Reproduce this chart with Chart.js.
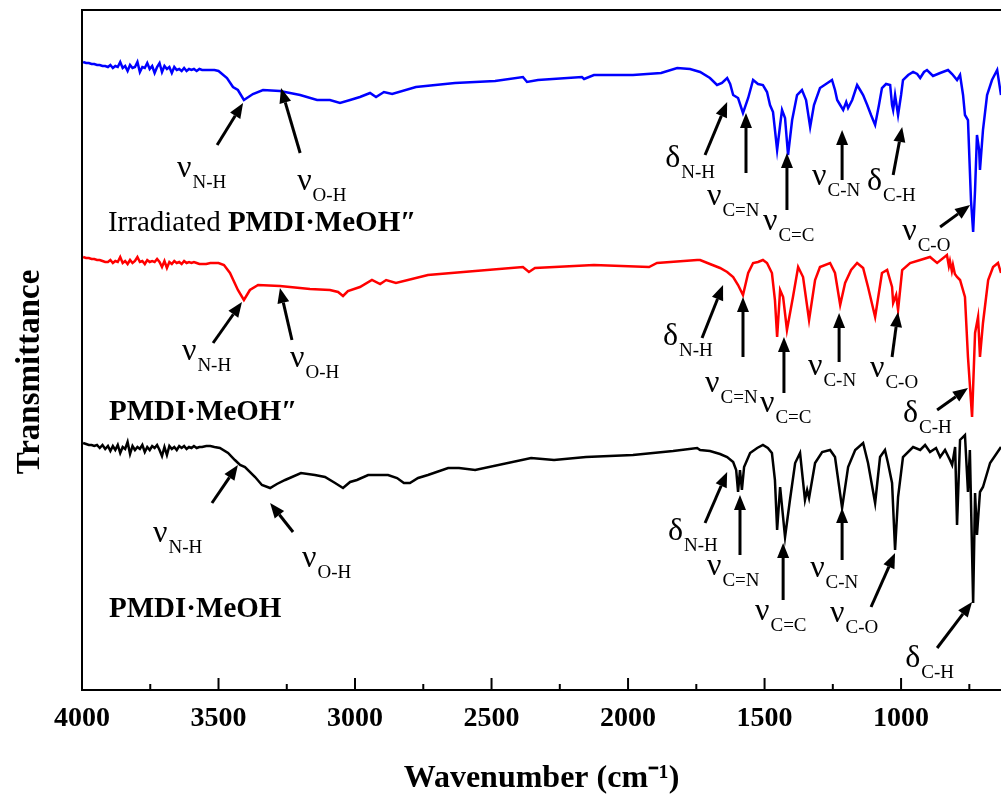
<!DOCTYPE html>
<html>
<head>
<meta charset="utf-8">
<title>FT-IR spectra of PMDI·MeOH</title>
<script src="https://cdn.jsdelivr.net/npm/chart.js@4.4.1/dist/chart.umd.min.js"></script>
<style>
  html, body { margin:0; padding:0; background:#fff; }
  #wrap { width:1001px; height:798px; }
</style>
</head>
<body>
<div id="wrap"><canvas id="chart" width="1001" height="798"></canvas></div>
<script>
const FONT = '"Liberation Serif", "Times New Roman", Times, serif';

// ── SPECTRA: [wavenumber cm-1, transmittance (offset, a.u.)] ──
const irradiated = [
  [3996,62.8],[3985,62.7],[3975,62.7],[3965,62.6],[3955,62.6],[3945,62.5],[3935,62.5],[3925,62.4],
  [3915,62.4],[3905,62.3],[3896,62.5],[3887,62.2],[3878,62.4],[3869,62.3],[3860,62.8],[3851,62.2],
  [3842,62.4],[3833,61.9],[3824,62.5],[3815,62.2],[3806,62.3],[3797,62.8],[3788,61.8],[3779,62.3],
  [3770,62.2],[3761,62.7],[3752,62.1],[3743,62.4],[3734,61.7],[3725,62.3],[3716,62.7],[3707,61.8],
  [3698,62.4],[3689,62.1],[3680,62.3],[3671,61.7],[3662,62.3],[3653,62.0],[3644,62.1],[3635,61.9],
  [3626,62.2],[3617,61.9],[3608,62.1],[3599,62.0],[3590,62.1],[3580,61.9],[3570,62.1],[3560,62.0],
  [3545,62.0],[3530,62.0],[3515,62.0],[3500,61.9],[3469,61.2],
  [3447,60.3],[3429,60.0],[3407,59.0],[3374,59.6],[3337,60.0],[3275,59.9],[3201,59.5],[3139,59.0],
  [3092,59.0],[3055,58.7],[3018,59.0],[2982,59.3],[2945,59.7],[2923,59.3],[2894,59.8],[2864,59.6],
  [2777,60.3],[2634,60.7],[2487,60.9],[2385,61.3],[2370,60.8],[2330,61.0],[2169,61.3],[2161,61.1],
  [2125,61.5],[1982,61.5],[1879,61.7],[1820,62.2],[1773,62.1],[1736,61.8],[1700,61.2],[1674,60.5],
  [1656,60.7],[1637,61.2],[1626,60.6],[1615,59.5],[1597,59.2],[1579,57.7],[1560,59.2],[1542,61.0],
  [1524,60.6],[1506,60.5],[1491,59.8],[1480,58.5],[1469,57.8],[1454,54.0],[1443,56.5],[1436,58.0],
  [1425,57.2],[1414,53.5],[1399,57.0],[1381,59.5],[1363,60.0],[1348,59.0],[1333,56.3],[1319,58.5],
  [1297,60.2],[1275,60.6],[1253,61.0],[1242,60.0],[1234,59.0],[1223,58.5],[1212,58.0],[1201,58.8],
  [1194,58.2],[1179,59.0],[1161,60.5],[1150,60.0],[1139,59.5],[1124,58.5],[1110,57.5],[1095,56.5],
  [1081,58.5],[1070,60.2],[1055,60.6],[1040,60.5],[1033,58.5],[1029,58.0],[1022,59.5],[1011,57.5],
  [1000,59.5],[993,61.0],[974,61.5],[956,61.8],[941,61.6],[930,61.2],[916,61.8],[905,62.0],
  [883,61.4],[857,61.7],[828,62.0],[813,61.6],[795,61.0],[784,61.5],[773,59.5],[766,57.5],
  [755,57.0],[744,49.0],[736,45.8],[729,50.0],[722,55.5],[714,54.0],[711,52.0],[700,56.0],
  [685,59.5],[667,61.0],[648,62.0],[634,59.5]
];

const methanolAged = [   // PMDI·MeOH″
  [3996,43.3],[3985,43.2],[3975,43.2],[3965,43.1],[3955,43.1],[3945,43.0],[3935,43.0],[3925,42.9],
  [3915,42.8],[3905,42.8],[3896,43.0],[3887,42.7],[3878,42.9],[3869,42.8],[3860,43.3],[3851,42.7],
  [3842,42.9],[3833,42.6],[3824,43.0],[3815,42.7],[3806,42.9],[3797,43.3],[3788,42.8],[3779,42.9],
  [3770,42.6],[3761,43.0],[3752,42.8],[3743,42.9],[3734,42.8],[3725,43.1],[3716,42.8],[3707,42.3],
  [3698,42.9],[3689,42.2],[3680,42.8],[3671,42.6],[3662,42.9],[3653,42.7],[3644,42.8],[3635,42.6],
  [3626,42.9],[3617,42.7],[3608,42.8],[3599,42.7],[3590,42.8],[3580,42.7],[3570,42.6],[3560,42.6],
  [3545,42.6],[3530,42.7],[3515,42.7],[3500,42.7],[3480,42.5],[3458,41.7],[3429,40.0],
  [3407,39.0],[3385,40.0],[3355,40.5],[3275,40.4],[3165,40.1],[3092,40.0],[3062,39.8],[3044,39.4],
  [3026,39.9],[2982,40.3],[2938,41.0],[2908,40.6],[2886,41.0],[2850,40.7],[2733,41.5],[2560,41.9],
  [2385,42.3],[2363,41.8],[2341,42.2],[2125,42.5],[1923,42.3],[1894,42.7],[1747,43.0],[1736,43.0],
  [1700,42.6],[1663,42.2],[1637,41.8],[1615,41.3],[1597,40.5],[1579,39.5],[1560,41.7],[1542,42.7],
  [1524,42.8],[1506,43.0],[1491,42.7],[1473,41.7],[1462,39.0],[1454,35.3],[1443,40.0],[1432,39.3],
  [1418,36.0],[1396,39.3],[1377,42.3],[1359,41.3],[1337,37.0],[1315,41.0],[1297,42.3],[1260,42.7],
  [1242,41.7],[1223,38.5],[1205,40.7],[1183,42.0],[1161,42.7],[1139,42.2],[1121,40.3],[1095,37.3],
  [1070,41.7],[1051,42.0],[1033,40.3],[1029,38.7],[1018,39.5],[1011,38.0],[996,42.0],[967,42.7],
  [930,43.0],[894,43.3],[868,42.7],[832,43.5],[825,42.4],[821,42.9],[814,41.9],[810,42.5],
  [803,41.6],[795,41.3],[784,41.0],[766,39.3],[755,33.3],[740,27.3],[729,35.7],[718,37.3],
  [711,33.3],[700,36.7],[681,41.0],[663,42.3],[645,42.7],[634,41.7]
];

const methanolFresh = [  // PMDI·MeOH
  [3996,24.7],[3985,24.6],[3975,24.5],[3965,24.5],[3955,24.4],[3945,24.5],[3935,24.2],[3925,24.5],
  [3915,24.1],[3905,24.4],[3896,23.9],[3887,24.4],[3878,24.0],[3869,24.5],[3860,23.7],[3851,24.3],
  [3842,24.1],[3833,24.8],[3824,23.6],[3815,24.4],[3806,24.0],[3797,24.3],[3788,24.1],[3779,24.5],
  [3770,23.8],[3761,24.3],[3752,24.0],[3743,24.4],[3734,24.2],[3725,24.5],[3716,24.0],[3707,23.4],
  [3698,24.3],[3689,23.5],[3680,24.4],[3671,24.1],[3662,24.3],[3653,24.0],[3644,24.4],[3635,24.2],
  [3626,24.4],[3617,24.1],[3608,24.3],[3599,24.2],[3590,24.4],[3580,24.2],[3570,24.3],[3560,24.3],
  [3545,24.4],[3530,24.4],[3515,24.3],[3495,24.2],[3465,23.7],[3440,23.0],
  [3421,22.5],[3403,22.3],[3366,21.3],[3341,20.5],[3311,20.2],[3286,20.6],[3256,21.0],[3198,21.7],
  [3147,21.5],[3110,21.3],[3073,20.7],[3044,20.2],[3018,20.8],[2993,21.0],[2952,21.5],[2879,21.5],
  [2846,21.2],[2821,20.7],[2799,20.7],[2769,21.2],[2733,21.5],[2659,22.2],[2619,22.2],[2560,22.0],
  [2355,23.2],[2271,23.0],[2154,23.3],[1982,23.5],[1835,23.9],[1747,24.2],[1736,24.0],[1700,23.9],
  [1663,23.6],[1637,23.3],[1615,22.8],[1604,22.0],[1597,19.8],[1590,22.0],[1583,20.0],[1575,22.3],
  [1553,23.7],[1527,24.2],[1506,24.5],[1488,24.2],[1473,23.7],[1462,21.0],[1454,16.0],[1443,20.3],
  [1425,15.3],[1407,19.0],[1388,22.7],[1370,23.7],[1352,19.0],[1344,20.0],[1337,19.2],[1315,22.7],
  [1289,23.8],[1260,24.0],[1242,23.3],[1216,18.2],[1194,22.3],[1168,24.0],[1139,24.7],[1121,22.7],
  [1095,18.7],[1077,23.3],[1059,24.0],[1048,22.7],[1033,20.7],[1022,14.0],[1011,19.3],[993,23.3],
  [956,24.3],[930,24.0],[912,24.5],[894,23.8],[872,24.2],[857,23.3],[839,24.0],[821,23.0],
  [813,22.5],[802,24.3],[795,16.5],[784,25.0],[777,25.2],[766,25.5],[755,19.8],[748,24.0],
  [736,8.7],[729,19.7],[722,15.5],[711,19.8],[700,20.3],[674,22.7],[634,24.3]
];

const X_TICKS = [4000, 3500, 3000, 2500, 2000, 1500, 1000];
const X_MINOR = [3750, 3250, 2750, 2250, 1750, 1250, 750];

// band assignments: [symbol, subscript, label wn, label T, arrow tail wn, T, arrow head wn, T]
const BANDS = [
  ['ν','N-H', 3652,51.3, 3505,54.5, 3410,58.7],
  ['ν','O-H', 3212,50.0, 3201,53.7, 3271,60.2],
  ['δ','N-H', 1864,52.3, 1718,53.5, 1637,58.8],
  ['ν','C=N', 1711,48.5, 1568,51.7, 1568,57.7],
  ['ν','C=C', 1506,46.0, 1418,48.0, 1418,53.7],
  ['ν','C-N', 1326,50.5, 1216,51.0, 1216,56.0],
  ['δ','C-H', 1125,50.0, 1029,51.5,  996,56.3],
  ['ν','C-O',  996,45.0,  857,46.3,  747,48.5],

  ['ν','N-H', 3634,33.0, 3520,34.7, 3414,38.8],
  ['ν','O-H', 3238,32.3, 3231,35.0, 3275,40.2],
  ['δ','N-H', 1872,34.5, 1729,35.2, 1652,40.5],
  ['ν','C=N', 1718,29.8, 1579,33.3, 1579,39.3],
  ['ν','C=C', 1517,27.8, 1429,29.7, 1429,35.3],
  ['ν','C-N', 1341,31.5, 1227,32.8, 1227,37.7],
  ['ν','C-O', 1114,31.3, 1033,33.3, 1011,37.8],
  ['δ','C-H',  993,26.8,  868,28.0,  755,30.2],

  ['ν','N-H', 3740,14.8, 3524,18.7, 3429,22.5],
  ['ν','O-H', 3194,12.3, 3227,15.8, 3311,18.7],
  ['δ','N-H', 1854,15.0, 1718,16.7, 1637,21.8],
  ['ν','C=N', 1711,11.5, 1590,13.5, 1590,19.5],
  ['ν','C=C', 1535, 7.0, 1432, 9.0, 1432,14.7],
  ['ν','C-N', 1333,11.3, 1216,13.0, 1216,18.2],
  ['ν','C-O', 1260, 6.8, 1110, 8.3, 1022,13.7],
  ['δ','C-H',  985, 2.3,  868, 4.2,  740, 8.8],
];

const SAMPLE_NAMES = [
  ['Irradiated ', 'PMDI·MeOH″', 3905, 45.9],
  ['',            'PMDI·MeOH″', 3901, 27.0],
  ['',            'PMDI·MeOH',  3901,  7.3],
];

// ── DRAW HELPERS ──
function drawArrow(ctx, x0, y0, x1, y1) {
  const a = Math.atan2(y1 - y0, x1 - x0);
  const len = 15, half = 6;
  const bx = x1 - len * Math.cos(a), by = y1 - len * Math.sin(a);
  ctx.beginPath();
  ctx.moveTo(x0, y0);
  ctx.lineTo(bx, by);
  ctx.stroke();
  ctx.beginPath();
  ctx.moveTo(x1, y1);
  ctx.lineTo(bx + half * Math.sin(a), by - half * Math.cos(a));
  ctx.lineTo(bx - half * Math.sin(a), by + half * Math.cos(a));
  ctx.closePath();
  ctx.fill();
}

const bandLabels = {
  id: 'bandLabels',
  afterDatasetsDraw(chart) {
    const {ctx, scales:{x, y}} = chart;
    ctx.save();
    ctx.fillStyle = '#000';
    ctx.strokeStyle = '#000';
    ctx.lineWidth = 3;
    ctx.textBaseline = 'alphabetic';
    ctx.textAlign = 'left';

    BANDS.forEach(([sym, sub, lw, lt, tw, tt, hw, ht]) => {
      drawArrow(ctx, x.getPixelForValue(tw), y.getPixelForValue(tt),
                     x.getPixelForValue(hw), y.getPixelForValue(ht));
      const px = x.getPixelForValue(lw), py = y.getPixelForValue(lt);
      ctx.font = `32px ${FONT}`;
      ctx.fillText(sym, px, py);
      const w = ctx.measureText(sym).width;
      ctx.font = `19px ${FONT}`;
      ctx.fillText(sub, px + w + 1, py + 11);
    });

    SAMPLE_NAMES.forEach(([plain, bold, wn, t]) => {
      let px = x.getPixelForValue(wn);
      const py = y.getPixelForValue(t);
      if (plain) {
        ctx.font = `29px ${FONT}`;
        ctx.fillText(plain, px, py);
        px += ctx.measureText(plain).width;
      }
      ctx.font = `bold 29px ${FONT}`;
      ctx.fillText(bold, px, py);
    });

    // inward tick marks on the bottom axis
    const base = chart.chartArea.bottom;
    ctx.lineWidth = 2;
    X_TICKS.forEach(v => {
      const px = x.getPixelForValue(v);
      ctx.beginPath(); ctx.moveTo(px, base); ctx.lineTo(px, base - 12); ctx.stroke();
    });
    X_MINOR.forEach(v => {
      const px = x.getPixelForValue(v);
      ctx.beginPath(); ctx.moveTo(px, base); ctx.lineTo(px, base - 6); ctx.stroke();
    });

    // y axis title
    ctx.translate(30, 372);
    ctx.rotate(-Math.PI / 2);
    ctx.textAlign = 'center';
    ctx.textBaseline = 'middle';
    ctx.font = `bold 33px ${FONT}`;
    ctx.fillText('Transmittance', 0, 0);
    ctx.restore();
  }
};

function spectrum(points, color) {
  return {
    data: points.map(([wn, t]) => ({x: wn, y: t})),
    borderColor: color,
    borderWidth: 2.5,
    pointRadius: 0,
    tension: 0,
    fill: false
  };
}

// ── CHART ──
new Chart(document.getElementById('chart').getContext('2d'), {
  type: 'line',
  data: {
    datasets: [
      spectrum(methanolFresh, '#000000'),
      spectrum(methanolAged,  '#ff0000'),
      spectrum(irradiated,    '#0000ff'),
    ]
  },
  options: {
    responsive: false,
    animation: false,
    devicePixelRatio: 1,
    layout: { padding: { left: 6, top: 10, right: 0, bottom: 0 } },
    plugins: { legend: { display: false }, tooltip: { enabled: false } },
    scales: {
      x: {
        type: 'linear', position: 'bottom', reverse: true, min: 634, max: 4000,
        afterBuildTicks: s => { s.ticks = X_TICKS.map(v => ({ value: v })); },
        afterFit: s => { s.height = 108; },
        grid: { display: false, drawTicks: false },
        border: { display: true, color: '#000', width: 2 },
        ticks: {
          color: '#000', padding: 12, autoSkip: false, maxRotation: 0,
          font: { family: FONT, size: 28, weight: 'bold' },
          callback: v => String(v)
        },
        title: {
          display: true, text: 'Wavenumber (cm⁻¹)', color: '#000',
          font: { family: FONT, size: 32, weight: 'bold' },
          padding: { top: 0, bottom: 0 }
        }
      },
      xTop: {
        type: 'linear', position: 'top', reverse: true, min: 634, max: 4000,
        afterFit: s => { s.height = 0; },
        ticks: { display: false },
        grid: { display: false, drawTicks: false },
        border: { display: true, color: '#000', width: 2 }
      },
      y: {
        type: 'linear', min: 0, max: 68,
        afterFit: s => { s.width = 76; },
        ticks: { display: false },
        grid: { display: false, drawTicks: false },
        border: { display: true, color: '#000', width: 2 }
      }
    }
  },
  plugins: [bandLabels]
});
</script>
</body>
</html>
